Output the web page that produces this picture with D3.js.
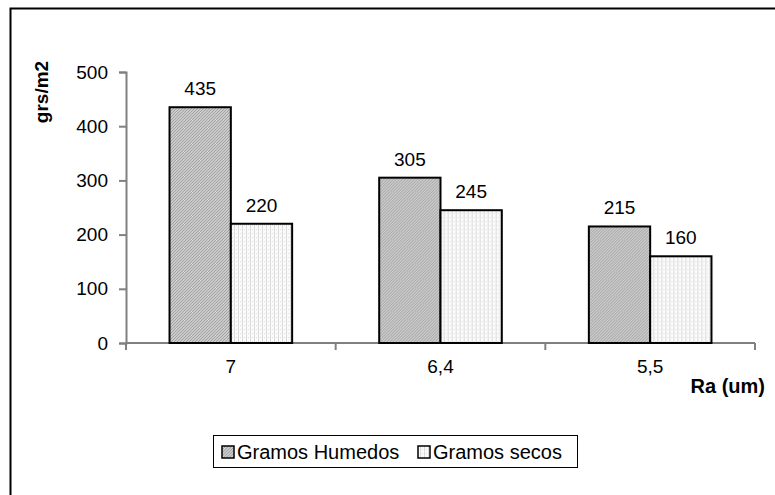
<!DOCTYPE html>
<html>
<head>
<meta charset="utf-8">
<script src="https://cdn.jsdelivr.net/npm/d3@7"></script>
<style>
  html, body { margin: 0; padding: 0; background: #fff; }
  svg { display: block; }
  text { font-family: "Liberation Sans", Arial, sans-serif; fill: #000; }
</style>
</head>
<body>
<svg id="chart" width="775" height="495"></svg>
<script>
// Surface roughness categories and weights per square metre
const categories = ["7", "6,4", "5,5"];
const seriesNames = ["Gramos Humedos", "Gramos secos"];
const humedos = [435, 305, 215];
const secos = [220, 245, 160];
const yTicks = [0, 100, 200, 300, 400, 500];

const svg = d3.select("#chart");
const W = 775, H = 495;
const margin = { left: 126, top: 72 };
const plotRight = 755, plotBottom = 343;
const FS = 19;

// Fill patterns
const defs = svg.append("defs");
const pHum = defs.append("pattern").attr("id", "hum")
  .attr("patternUnits", "userSpaceOnUse").attr("width", 3).attr("height", 3);
pHum.append("rect").attr("width", 3).attr("height", 3).attr("fill", "#cacaca");
pHum.append("path").attr("d", "M0,3 L3,0 M-1,1 L1,-1 M2,4 L4,2")
  .attr("stroke", "#9e9e9e").attr("stroke-width", 0.9);

const pSec = defs.append("pattern").attr("id", "sec")
  .attr("patternUnits", "userSpaceOnUse").attr("width", 4).attr("height", 4);
pSec.append("rect").attr("width", 4).attr("height", 4).attr("fill", "#fbfbfb");
pSec.append("rect").attr("x", 0).attr("y", 0).attr("width", 1).attr("height", 4).attr("fill", "#dadada");
pSec.append("rect").attr("x", 2).attr("y", 1).attr("width", 1).attr("height", 1).attr("fill", "#e0e0e0");

// Outer frame
svg.append("rect").attr("x", 10.5).attr("y", 8.5).attr("width", W + 10).attr("height", H + 10)
  .attr("fill", "none").attr("stroke", "#000").attr("stroke-width", 2);

// Scales
const x0 = d3.scaleBand().domain(categories).range([margin.left, plotRight]).paddingInner(0).paddingOuter(0);
const x1 = d3.scaleBand().domain(seriesNames).range([0, x0.bandwidth()]).paddingOuter(0.71).paddingInner(0);
const y = d3.scaleLinear().domain([0, 500]).range([plotBottom, margin.top]);

// Axes
const yAxis = d3.axisLeft(y).tickValues(yTicks).tickSize(7).tickPadding(11).tickFormat(d3.format("d"));
const gy = svg.append("g").attr("transform", `translate(${margin.left},0)`).call(yAxis);
gy.select(".domain").attr("stroke", "#808080").attr("stroke-width", 2);
gy.selectAll(".tick line").attr("stroke", "#808080").attr("stroke-width", 2);
gy.selectAll(".tick text").style("font-size", FS + "px").attr("fill", "#000");

const xAxis = d3.axisBottom(x0).tickSize(0).tickPadding(17);
const gx = svg.append("g").attr("transform", `translate(0,${plotBottom})`).call(xAxis);
gx.select(".domain").attr("stroke", "#808080").attr("stroke-width", 2).attr("d", `M${margin.left},0H${plotRight}`);
gx.selectAll(".tick text").style("font-size", FS + "px").attr("fill", "#000");
// category boundary ticks
const bounds = categories.map(c => x0(c)).concat([x0(categories[2]) + x0.bandwidth()]);
gx.selectAll(".bound").data(bounds).enter().append("line")
  .attr("x1", d => d).attr("x2", d => d).attr("y1", 0).attr("y2", 7)
  .attr("stroke", "#808080").attr("stroke-width", 2);

// Bars
const rows = categories.map((c, i) => ({ cat: c, vals: [
  { s: seriesNames[0], v: humedos[i], fill: "url(#hum)" },
  { s: seriesNames[1], v: secos[i], fill: "url(#sec)" }
]}));

const groups = svg.append("g").selectAll("g").data(rows).enter().append("g")
  .attr("transform", d => `translate(${x0(d.cat)},0)`);

groups.selectAll("rect").data(d => d.vals).enter().append("rect")
  .attr("x", d => x1(d.s)).attr("width", x1.bandwidth())
  .attr("y", d => y(d.v)).attr("height", d => y(0) - y(d.v))
  .attr("fill", d => d.fill).attr("stroke", "#000").attr("stroke-width", 2);

groups.selectAll("text.val").data(d => d.vals).enter().append("text")
  .attr("class", "val")
  .attr("x", d => x1(d.s) + x1.bandwidth() / 2)
  .attr("y", d => y(d.v) - 12)
  .attr("text-anchor", "middle")
  .style("font-size", FS + "px")
  .text(d => d.v);

// Axis titles
svg.append("text")
  .attr("transform", "translate(48,92) rotate(-90)")
  .attr("text-anchor", "middle")
  .style("font-size", FS + "px").style("font-weight", "bold")
  .text("grs/m2");

svg.append("text")
  .attr("x", 765).attr("y", 393)
  .attr("text-anchor", "end")
  .style("font-size", "20px").style("font-weight", "bold")
  .text("Ra (um)");

// Legend
const legend = svg.append("g");
legend.append("rect").attr("x", 213.5).attr("y", 435.5).attr("width", 364).attr("height", 32)
  .attr("fill", "#fff").attr("stroke", "#000").attr("stroke-width", 1);
const legItems = [
  { name: seriesNames[0], fill: "url(#hum)", x: 222 },
  { name: seriesNames[1], fill: "url(#sec)", x: 418 }
];
legItems.forEach(it => {
  legend.append("rect").attr("x", it.x).attr("y", 446).attr("width", 12).attr("height", 12)
    .attr("fill", it.fill).attr("stroke", "#000").attr("stroke-width", 1.5);
  legend.append("text").attr("x", it.x + 15).attr("y", 458.5)
    .style("font-size", "20px").text(it.name);
});
</script>
</body>
</html>
